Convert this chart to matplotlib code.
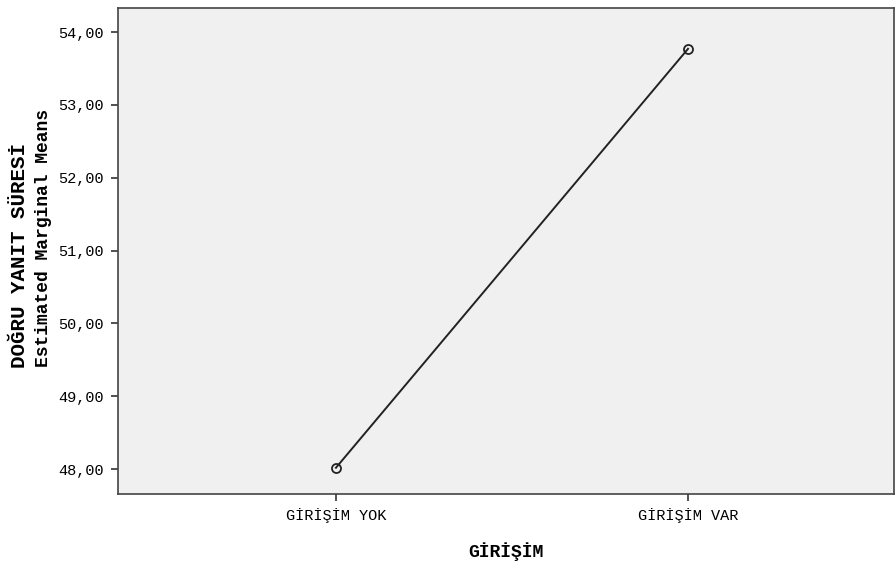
import matplotlib
matplotlib.use("Agg")
import matplotlib.pyplot as plt

groups = ["GİRİŞİM YOK", "GİRİŞİM VAR"]
means = [48.02, 53.77]
yticks = [48, 49, 50, 51, 52, 53, 54]

plt.rcParams["font.family"] = ["Liberation Mono", "DejaVu Sans Mono"]

fig = plt.figure(figsize=(8.96, 5.64), dpi=100)
ax = fig.add_axes([118 / 896, 70 / 564, 776 / 896, 486 / 564])
ax.set_facecolor("#f0f0f0")

x = list(range(len(groups)))
ax.plot(x, means, color="#222222", lw=1.4, marker="o", ms=6.5,
        mfc="none", mec="#222222", mew=1.3)

ax.set_xlim(-0.619, 1.585)
ax.set_ylim(47.66, 54.33)
ax.set_xticks(x)
ax.set_xticklabels(groups, fontsize=11)
ax.set_yticks(yticks)
ax.set_yticklabels([f"{v},00" for v in yticks], fontsize=11)
ax.tick_params(length=5, width=1.2, color="#333333", pad=5)

for s in ax.spines.values():
    s.set_color("#444444")
    s.set_linewidth(1.2)

ax.set_xlabel("GİRİŞİM", fontsize=13, fontweight="bold", labelpad=14)
fig.text(20 / 896, 1 - 255 / 564, "DOĞRU YANIT SÜRESİ", rotation=90,
         ha="center", va="center", fontsize=15, fontweight="bold")
fig.text(43 / 896, 1 - 238 / 564, "Estimated Marginal Means", rotation=90,
         ha="center", va="center", fontsize=13, fontweight="bold")

fig.savefig("out.png", dpi=100)
